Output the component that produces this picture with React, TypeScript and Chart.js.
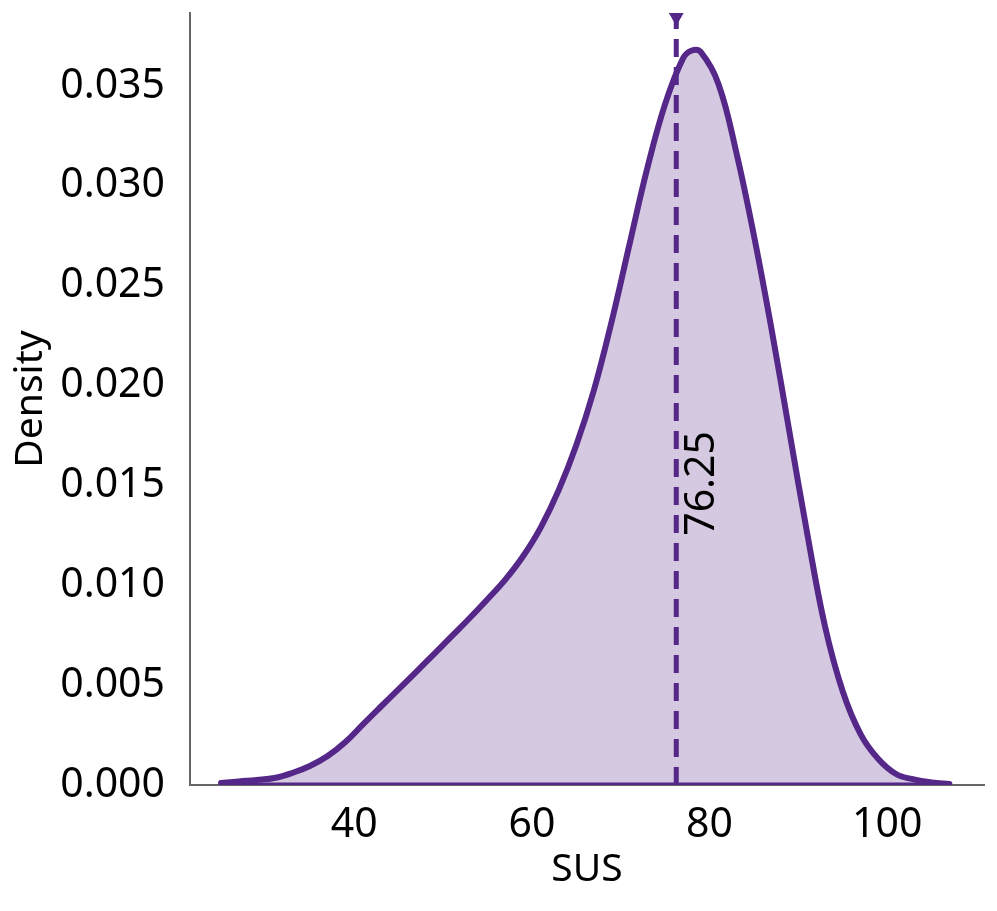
import React, { useEffect, useRef } from "react";
import { Chart, registerables } from "chart.js";

Chart.register(...registerables);

// SUS score grid (x) and estimated kernel density (y)
const susValues = [
  25, 27, 29, 31, 33, 35, 37, 39, 41, 43, 45, 47, 49, 51, 53, 55, 57, 59, 61,
  63, 65, 67, 69, 71, 73, 75, 77, 78, 79, 81, 83, 85, 87, 89, 91, 93, 95, 97,
  99, 101, 103, 105, 107,
];
const densityValues = [
  0.0001, 0.00018, 0.00025, 0.00035, 0.0006, 0.00095, 0.00145, 0.00215,
  0.00305, 0.00393, 0.0048, 0.00568, 0.00657, 0.00746, 0.00836, 0.0093,
  0.01028, 0.01145, 0.0129, 0.01475, 0.01702, 0.0198, 0.02325, 0.0271, 0.0309,
  0.0341, 0.03637, 0.03677, 0.0367, 0.0351, 0.0317, 0.0275, 0.02277, 0.01766,
  0.01258, 0.00794, 0.00468, 0.00255, 0.0013, 0.00055, 0.00028, 0.00013,
  0.00005,
];
const xTickValues = [40, 60, 80, 100];
const yTickValues = [0, 0.005, 0.01, 0.015, 0.02, 0.025, 0.03, 0.035];
const meanValue = 76.25;
const meanLabel = "76.25";
const meanLabelY = 0.0151;
const xTitle = "SUS";
const yTitle = "Density";

const PURPLE = "#542788";
const FILL = "rgba(84,39,136,0.25)";
const FONT = "'Noto Sans', 'DejaVu Sans', sans-serif";
const TICK_SIZE = 41;
const TITLE_SIZE = 39;

export default function App() {
  const ref = useRef<HTMLCanvasElement>(null);

  useEffect(() => {
    if (!ref.current) return;
    const X_MIN = 21.5;
    const X_MAX = 110.9;
    const Y_MAX = 0.03865;

    const meanLabelPlugin = {
      id: "meanLabel",
      afterDatasetsDraw(chart: any) {
        const { ctx, scales } = chart;
        const px = scales.x.getPixelForValue(meanValue);
        const py = scales.y.getPixelForValue(meanLabelY);
        ctx.save();
        ctx.font = `${TICK_SIZE}px ${FONT}`;
        ctx.fillStyle = "#000";
        ctx.translate(px + 38, py);
        ctx.rotate(-Math.PI / 2);
        ctx.textAlign = "center";
        ctx.textBaseline = "alphabetic";
        ctx.fillText(meanLabel, 0, 0);
        ctx.restore();
      },
    };

    const chart = new Chart(ref.current, {
      type: "line",
      data: {
        datasets: [
          {
            data: susValues.map((x, i) => ({ x, y: densityValues[i] })),
            borderColor: PURPLE,
            backgroundColor: FILL,
            fill: "origin",
            borderWidth: 6,
            pointRadius: 0,
            tension: 0.4,
            borderCapStyle: "round",
            borderJoinStyle: "round",
          },
          {
            data: [
              { x: susValues[0], y: 0 },
              { x: susValues[susValues.length - 1], y: 0 },
            ],
            borderColor: PURPLE,
            borderWidth: 5,
            pointRadius: 0,
            fill: false,
            borderCapStyle: "round",
          },
          {
            data: [
              { x: meanValue, y: 0 },
              { x: meanValue, y: Y_MAX },
            ],
            borderColor: PURPLE,
            borderWidth: 5,
            borderDash: [18, 10],
            pointRadius: [0, 12],
            pointStyle: "triangle",
            pointRotation: 180,
            pointBackgroundColor: PURPLE,
            pointBorderColor: PURPLE,
            pointBorderWidth: 1,
            fill: false,
            clip: 0,
          },
        ],
      },
      options: {
        animation: false,
        responsive: false,
        layout: { padding: { top: 12, right: 13, left: 0, bottom: 0 } },
        plugins: {
          legend: { display: false },
          tooltip: { enabled: false },
        },
        scales: {
          x: {
            type: "linear",
            min: X_MIN,
            max: X_MAX,
            afterFit: (s: any) => {
              s.height = 126;
              s.paddingLeft = 0;
              s.paddingRight = 0;
            },
            afterBuildTicks: (s: any) => {
              s.ticks = xTickValues.map((v) => ({ value: v }));
            },
            grid: { display: false, drawTicks: false },
            border: { display: true, color: "#666", width: 2 },
            ticks: {
              color: "#000",
              font: { family: FONT, size: TICK_SIZE },
              padding: 16,
              maxRotation: 0,
              callback: (v: any) => String(v),
            },
            title: {
              display: true,
              text: xTitle,
              color: "#000",
              font: { family: FONT, size: TITLE_SIZE },
              padding: { top: 0, bottom: 18 },
            },
          },
          y: {
            type: "linear",
            min: 0,
            max: Y_MAX,
            afterFit: (s: any) => {
              s.width = 190;
              s.paddingTop = 0;
              s.paddingBottom = 0;
            },
            afterBuildTicks: (s: any) => {
              s.ticks = yTickValues.map((v) => ({ value: v }));
            },
            grid: { display: false, drawTicks: false },
            border: { display: true, color: "#666", width: 2 },
            ticks: {
              color: "#000",
              font: { family: FONT, size: TICK_SIZE },
              padding: 25,
              callback: (v: any) => Number(v).toFixed(3),
            },
            title: {
              display: true,
              text: yTitle,
              color: "#000",
              font: { family: FONT, size: TITLE_SIZE },
              padding: { top: 7, bottom: 0 },
            },
          },
        },
      },
      plugins: [meanLabelPlugin],
    } as any);

    return () => chart.destroy();
  }, []);

  return (
    <canvas
      ref={ref}
      width={997}
      height={911}
      style={{ position: "absolute", left: 0, top: 0, display: "block" }}
    />
  );
}
